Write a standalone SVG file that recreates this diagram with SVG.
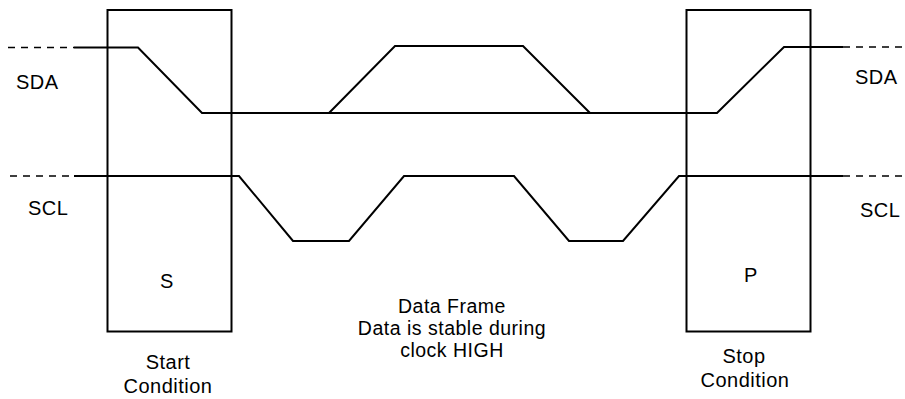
<svg xmlns="http://www.w3.org/2000/svg" width="905" height="399" viewBox="0 0 905 399">
  <style>
    .box { fill: none; stroke: #000; stroke-width: 2; }
    .wave { fill: none; stroke: #000; stroke-width: 2; stroke-linejoin: miter; }
    .dash { fill: none; stroke: #000; stroke-width: 1.5; stroke-dasharray: 7 6; }
    text { font-family: "Liberation Sans", Arial, sans-serif; font-size: 20px; fill: #000; letter-spacing: 0.5px; }
    .mid { text-anchor: middle; }
  </style>
  <rect width="905" height="399" fill="#fff"/>

  <g id="start-condition">
    <rect class="box" x="107.5" y="10" width="124" height="321.5"/>
    <text class="mid" x="167" y="288">S</text>
    <text class="mid" x="168" y="369">Start</text>
    <text class="mid" x="168" y="392.5">Condition</text>
  </g>

  <g id="stop-condition">
    <rect class="box" x="686.5" y="10" width="124" height="321.5"/>
    <text class="mid" x="751" y="282">P</text>
    <text class="mid" x="744" y="362.5">Stop</text>
    <text class="mid" x="745" y="387">Condition</text>
  </g>

  <g id="data-frame">
    <text class="mid" x="452" y="313" style="font-size:19.5px">Data Frame</text>
    <text class="mid" x="452" y="334.5" style="font-size:19.5px">Data is stable during</text>
    <text class="mid" x="452" y="356.5" style="font-size:19.5px">clock HIGH</text>
  </g>

  <g id="labels">
    <text x="16" y="89">SDA</text>
    <text x="28" y="215">SCL</text>
    <text x="855" y="84">SDA</text>
    <text x="860" y="217">SCL</text>
  </g>

  <g id="connectors">
    <line class="dash" x1="8" y1="47.5" x2="74" y2="47.5"/>
    <line class="dash" x1="10" y1="176" x2="74" y2="176"/>
    <line class="dash" x1="843" y1="47" x2="905" y2="47"/>
    <line class="dash" x1="843" y1="176" x2="905" y2="176"/>
    <polyline id="sda" class="wave" points="74,47.5 138,47.5 202,113 717,113 784,47 843,47"/>
    <polyline id="sda-data" class="wave" points="329,113 395,46 523,46 590,113"/>
    <polyline id="scl" class="wave" points="74,176 239,176 293,241 349,241 404,176 514,176 569,241 623,241 679,176 843,176"/>
  </g>
</svg>
